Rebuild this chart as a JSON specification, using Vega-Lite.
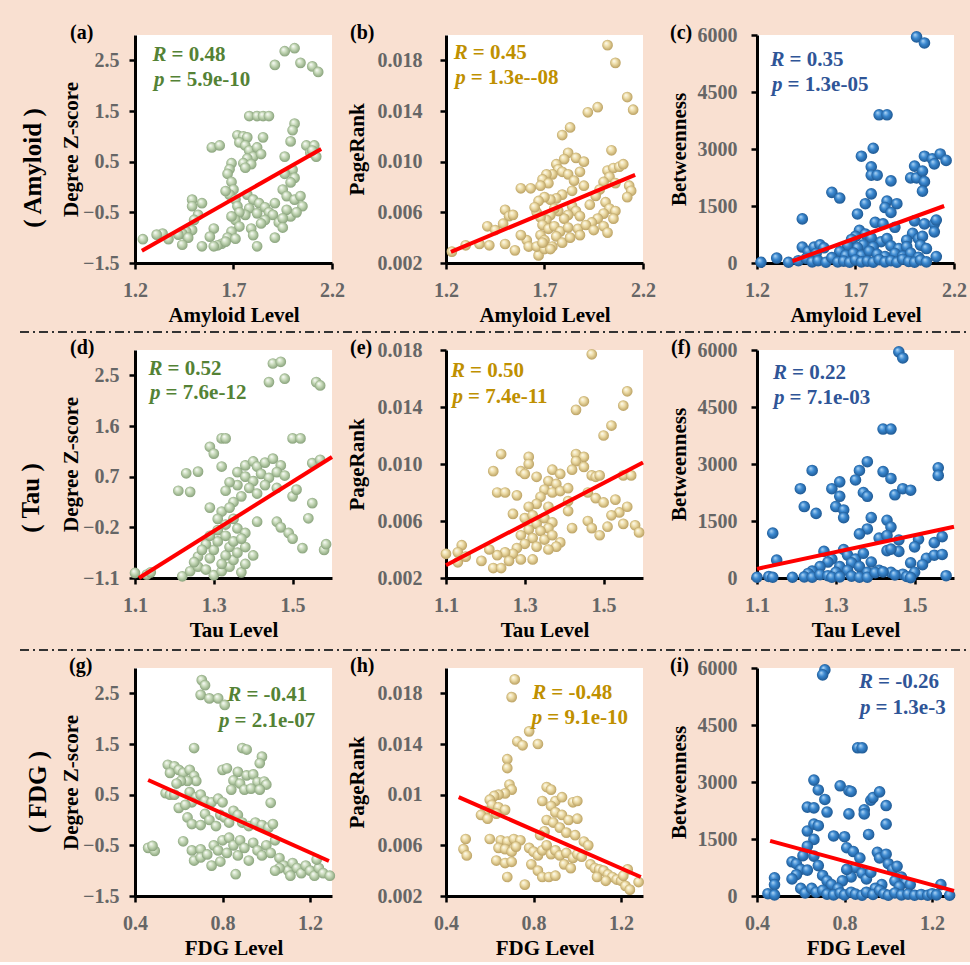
{
"$schema": "https://vega.github.io/schema/vega-lite/v6.json",
"background": "#f9e0d1",
"padding": {"left": 18, "top": 23, "right": 3, "bottom": 4},
"config": {
 "view": {"fill": "white", "stroke": null},
 "font": "Liberation Serif",
 "axis": {"domainColor": "black", "domainWidth": 3, "tickColor": "black", "tickWidth": 2.5, "tickSize": 6, "labelColor": "#666666", "labelFont": "Liberation Serif", "labelFontSize": 20, "labelFontWeight": "bold", "titleFont": "Liberation Serif", "titleFontSize": 21, "titleFontWeight": "bold", "titleColor": "black", "grid": false, "labelOverlap": false, "labelFlush": false},
 "axisX": {"labelPadding": 11, "titlePadding": 4},
 "title": {"font": "Liberation Serif", "fontSize": 20, "fontWeight": "bold", "color": "black", "anchor": "start", "frame": "group", "offset": -8},
 "text": {"font": "Liberation Serif", "fontSize": 21, "fontWeight": "bold", "baseline": "middle"}
},
"datasets": {
 "fit": [
  {"p":"a","x":1.235,"y":-1.26},{"p":"a","x":2.145,"y":0.75},
  {"p":"b","x":1.225,"y":0.00288},{"p":"b","x":2.16,"y":0.00896},
  {"p":"c","x":1.38,"y":50},{"p":"c","x":2.15,"y":1500},
  {"p":"d","x":1.11,"y":-1.1},{"p":"d","x":1.6,"y":1.05},
  {"p":"e","x":1.1,"y":0.0029},{"p":"e","x":1.6,"y":0.0101},
  {"p":"f","x":1.1,"y":240},{"p":"f","x":1.6,"y":1350},
  {"p":"g","x":0.46,"y":0.79},{"p":"g","x":1.286,"y":-0.81},
  {"p":"h","x":0.458,"y":0.0098},{"p":"h","x":1.29,"y":0.0035},
  {"p":"i","x":0.46,"y":1450},{"p":"i","x":1.3,"y":134}
 ],
 "ann": [
  {"p":"a","x":1.36,"y":2.60,"s":"R","t":"= 0.48"},{"p":"a","x":1.35,"y":2.11,"s":"p","t":"= 5.9e-10"},
  {"p":"b","x":1.31,"y":0.0186,"s":"R","t":"= 0.45"},{"p":"b","x":1.30,"y":0.0166,"s":"p","t":"= 1.3e--08"},
  {"p":"c","x":1.34,"y":5330,"s":"R","t":"= 0.35"},{"p":"c","x":1.33,"y":4690,"s":"p","t":"= 1.3e-05"},
  {"p":"d","x":1.17,"y":2.62,"s":"R","t":"= 0.52"},{"p":"d","x":1.165,"y":2.18,"s":"p","t":"= 7.6e-12"},
  {"p":"e","x":1.148,"y":0.01656,"s":"R","t":"= 0.50"},{"p":"e","x":1.143,"y":0.0147,"s":"p","t":"= 7.4e-11"},
  {"p":"f","x":1.176,"y":5400,"s":"R","t":"= 0.22"},{"p":"f","x":1.17,"y":4724,"s":"p","t":"= 7.1e-03"},
  {"p":"g","x":0.886,"y":2.46,"s":"R","t":"= -0.41"},{"p":"g","x":0.832,"y":1.95,"s":"p","t":"= 2.1e-07"},
  {"p":"h","x":0.858,"y":0.018,"s":"R","t":"= -0.48"},{"p":"h","x":0.84,"y":0.01604,"s":"p","t":"= 9.1e-10"},
  {"p":"i","x":0.93,"y":5628,"s":"R","t":"= -0.26"},{"p":"i","x":0.918,"y":4958,"s":"p","t":"= 1.3e-3"}
 ],
 "pa": [
  {"x":1.91,"y":2.41},{"x":1.96,"y":2.68},{"x":2.01,"y":2.74},{"x":2.04,"y":2.45},{"x":2.1,"y":2.38},{"x":2.13,"y":2.27},
  {"x":1.78,"y":1.4},{"x":1.82,"y":1.4},{"x":1.85,"y":1.4},{"x":1.88,"y":1.4},{"x":2.01,"y":1.25},{"x":2.0,"y":1.12},
  {"x":1.59,"y":0.78},{"x":1.63,"y":0.82},{"x":1.72,"y":1.02},{"x":1.75,"y":1.0},{"x":1.77,"y":0.98},{"x":1.85,"y":0.98},
  {"x":1.73,"y":0.88},{"x":1.76,"y":0.82},{"x":1.78,"y":0.72},{"x":1.8,"y":0.6},{"x":1.77,"y":0.56},{"x":1.75,"y":0.47},{"x":1.79,"y":0.45},{"x":1.82,"y":0.78},{"x":1.84,"y":0.65},{"x":1.76,"y":0.38},
  {"x":1.96,"y":0.6},{"x":1.99,"y":0.9},{"x":2.07,"y":0.82},{"x":2.11,"y":0.82},{"x":2.09,"y":0.68},{"x":2.12,"y":0.6},{"x":2.1,"y":0.72},
  {"x":1.69,"y":0.47},{"x":1.68,"y":0.35},{"x":1.67,"y":0.26},{"x":1.69,"y":0.1},{"x":1.7,"y":-0.05},{"x":1.68,"y":-0.15},{"x":1.66,"y":-0.08},{"x":1.71,"y":-0.25},
  {"x":2.0,"y":0.34},{"x":2.01,"y":0.18},{"x":1.99,"y":0.09},{"x":1.96,"y":0.26},{"x":1.95,"y":-0.05},{"x":1.97,"y":-0.18},{"x":2.01,"y":-0.25},{"x":2.04,"y":-0.18},{"x":2.05,"y":-0.38},{"x":1.99,"y":-0.58},{"x":1.97,"y":-0.45},{"x":2.02,"y":-0.5},
  {"x":1.77,"y":-0.15},{"x":1.8,"y":-0.25},{"x":1.83,"y":-0.32},{"x":1.78,"y":-0.42},{"x":1.76,"y":-0.55},{"x":1.82,"y":-0.52},{"x":1.86,"y":-0.4},{"x":1.88,"y":-0.5},{"x":1.9,"y":-0.55},{"x":1.86,"y":-0.65},{"x":1.84,"y":-0.72},{"x":1.91,"y":-0.32},
  {"x":1.72,"y":-0.38},{"x":1.73,"y":-0.5},{"x":1.71,"y":-0.65},{"x":1.69,"y":-0.58},{"x":1.73,"y":-0.78},{"x":1.69,"y":-0.88},{"x":1.67,"y":-1.0},{"x":1.71,"y":-1.02},{"x":1.64,"y":-1.12},{"x":1.62,"y":-1.15},{"x":1.66,"y":-1.08},
  {"x":1.79,"y":-0.82},{"x":1.8,"y":-0.95},{"x":1.82,"y":-1.17},{"x":1.93,"y":-0.7},{"x":1.95,"y":-0.62},{"x":1.91,"y":-1.0},{"x":1.95,"y":-0.8},
  {"x":1.49,"y":-0.25},{"x":1.49,"y":-0.38},{"x":1.54,"y":-0.32},{"x":1.52,"y":-0.55},{"x":1.5,"y":-0.65},{"x":1.49,"y":-0.85},{"x":1.46,"y":-0.88},{"x":1.44,"y":-0.92},{"x":1.47,"y":-1.0},{"x":1.42,"y":-0.94},{"x":1.37,"y":-1.03},{"x":1.34,"y":-0.92},{"x":1.31,"y":-0.94},{"x":1.24,"y":-1.03},{"x":1.44,"y":-1.14},{"x":1.54,"y":-1.17},{"x":1.6,"y":-0.82},{"x":1.58,"y":-0.98},{"x":1.6,"y":-1.17}
 ],
 "pb": [
  {"x":2.02,"y":0.0192},{"x":2.06,"y":0.0178},{"x":2.12,"y":0.0151},{"x":2.15,"y":0.0141},{"x":1.92,"y":0.0139},{"x":1.97,"y":0.0143},{"x":1.79,"y":0.0121},{"x":1.83,"y":0.0127},{"x":2.04,"y":0.0109},
  {"x":1.82,"y":0.0107},{"x":1.86,"y":0.0103},{"x":1.90,"y":0.0100},{"x":1.80,"y":0.0102},{"x":1.76,"y":0.0098},{"x":1.77,"y":0.0094},{"x":1.74,"y":0.0090},{"x":1.71,"y":0.0090},{"x":1.79,"y":0.0092},{"x":1.82,"y":0.0090},{"x":1.88,"y":0.0092},{"x":1.69,"y":0.0086},{"x":1.72,"y":0.0083},{"x":1.68,"y":0.0081},{"x":1.85,"y":0.0085},{"x":1.9,"y":0.0081},{"x":1.84,"y":0.0077},{"x":1.79,"y":0.0074},{"x":1.76,"y":0.0071},{"x":1.73,"y":0.0070},{"x":1.70,"y":0.0072},{"x":1.67,"y":0.0069},
  {"x":1.58,"y":0.0079},{"x":1.63,"y":0.0079},
  {"x":2.02,"y":0.0093},{"x":2.05,"y":0.0095},{"x":2.08,"y":0.0096},{"x":2.1,"y":0.0098},{"x":2.03,"y":0.0088},{"x":2.0,"y":0.0084},{"x":2.06,"y":0.0083},{"x":2.13,"y":0.0081},{"x":2.14,"y":0.0077},{"x":2.12,"y":0.0072},{"x":1.98,"y":0.0078},{"x":1.96,"y":0.0073},{"x":2.01,"y":0.0068},{"x":2.03,"y":0.0063},{"x":2.06,"y":0.0061},{"x":2.0,"y":0.0059},{"x":2.05,"y":0.0055},{"x":1.97,"y":0.0055},{"x":1.94,"y":0.0052},{"x":1.93,"y":0.0066},
  {"x":1.84,"y":0.0065},{"x":1.86,"y":0.0061},{"x":1.88,"y":0.0057},{"x":1.82,"y":0.0058},{"x":1.80,"y":0.0055},{"x":1.77,"y":0.0061},{"x":1.75,"y":0.0063},{"x":1.73,"y":0.0058},{"x":1.71,"y":0.0054},{"x":1.68,"y":0.0056},{"x":1.66,"y":0.0060},{"x":1.65,"y":0.0064},{"x":1.69,"y":0.0050},{"x":1.72,"y":0.0047},{"x":1.75,"y":0.0049},{"x":1.78,"y":0.0045},{"x":1.82,"y":0.0048},{"x":1.87,"y":0.0047},{"x":1.91,"y":0.0050},{"x":1.95,"y":0.0046},{"x":2.0,"y":0.0049},{"x":2.02,"y":0.0044},
  {"x":1.68,"y":0.0042},{"x":1.7,"y":0.0038},{"x":1.76,"y":0.0041},{"x":1.79,"y":0.0036},{"x":1.83,"y":0.0040},{"x":1.88,"y":0.0042},{"x":1.74,"y":0.0033},
  {"x":1.23,"y":0.0029},{"x":1.30,"y":0.0034},{"x":1.37,"y":0.0035},{"x":1.42,"y":0.0034},{"x":1.50,"y":0.0035},{"x":1.55,"y":0.0030},
  {"x":1.41,"y":0.0049},{"x":1.45,"y":0.0046},{"x":1.50,"y":0.0062},{"x":1.52,"y":0.0057},{"x":1.54,"y":0.0058},{"x":1.49,"y":0.0051},
  {"x":1.61,"y":0.0038},{"x":1.62,"y":0.0033},{"x":1.67,"y":0.0026},{"x":1.66,"y":0.0033},{"x":1.70,"y":0.0031},{"x":1.73,"y":0.0031},{"x":1.69,"y":0.0036},{"x":1.58,"y":0.0042}
 ],
 "pc": [
  {"x":2.01,"y":5950},{"x":2.05,"y":5790},{"x":1.82,"y":3900},{"x":1.86,"y":3900},{"x":1.79,"y":3020},{"x":1.73,"y":2810},{"x":1.78,"y":2530},{"x":1.78,"y":2310},{"x":1.81,"y":2310},{"x":1.88,"y":2160},
  {"x":2.0,"y":2550},{"x":1.98,"y":2240},{"x":2.01,"y":2240},{"x":2.04,"y":2420},{"x":2.05,"y":2140},{"x":2.04,"y":1890},{"x":2.05,"y":2810},{"x":2.09,"y":2740},{"x":2.1,"y":2610},{"x":2.13,"y":2870},{"x":2.16,"y":2700},
  {"x":1.58,"y":1860},{"x":1.62,"y":1710},{"x":1.78,"y":1820},{"x":1.75,"y":1560},{"x":1.86,"y":1630},{"x":1.91,"y":1560},{"x":1.85,"y":1460},{"x":1.88,"y":1330},{"x":1.71,"y":1290},{"x":1.43,"y":1160},
  {"x":1.80,"y":1070},{"x":1.84,"y":1030},{"x":1.90,"y":940},{"x":2.0,"y":1110},{"x":2.05,"y":1030},{"x":2.1,"y":1030},{"x":2.11,"y":1130},{"x":2.1,"y":820},{"x":2.11,"y":170},
  {"x":1.99,"y":780},{"x":2.02,"y":640},{"x":1.96,"y":600},{"x":2.04,"y":700},{"x":1.72,"y":860},{"x":1.75,"y":760},{"x":1.70,"y":700},{"x":1.68,"y":620},{"x":1.78,"y":660},{"x":1.83,"y":560},{"x":1.86,"y":640},{"x":1.74,"y":480},{"x":1.71,"y":400},{"x":1.66,"y":460},{"x":1.79,"y":420},{"x":1.88,"y":450},{"x":1.92,"y":380},{"x":1.96,"y":430},{"x":2.03,"y":470},{"x":2.06,"y":380},
  {"x":1.43,"y":420},{"x":1.46,"y":300},{"x":1.49,"y":420},{"x":1.52,"y":480},{"x":1.54,"y":400},{"x":1.5,"y":250},{"x":1.62,"y":300},{"x":1.65,"y":200},{"x":1.69,"y":260},{"x":1.73,"y":200},{"x":1.77,"y":310},{"x":1.81,"y":230},{"x":1.85,"y":170},{"x":1.9,"y":250},{"x":1.94,"y":180},{"x":1.98,"y":260},{"x":2.02,"y":150},
  {"x":1.22,"y":20},{"x":1.3,"y":130},{"x":1.36,"y":20},{"x":1.41,"y":60},{"x":1.45,"y":120},{"x":1.48,"y":30},{"x":1.51,"y":60},{"x":1.55,"y":20},{"x":1.58,"y":140},{"x":1.61,"y":30},{"x":1.64,"y":50},{"x":1.67,"y":20},{"x":1.7,"y":80},{"x":1.73,"y":30},{"x":1.76,"y":50},{"x":1.79,"y":20},{"x":1.82,"y":90},{"x":1.85,"y":30},{"x":1.88,"y":60},{"x":1.91,"y":20},{"x":1.94,"y":100},{"x":1.97,"y":40},{"x":2.0,"y":20},{"x":2.03,"y":80},{"x":2.06,"y":30}
 ],
 "pd": [
  {"x":1.45,"y":2.71},{"x":1.47,"y":2.74},{"x":1.44,"y":2.38},{"x":1.48,"y":2.44},{"x":1.56,"y":2.38},{"x":1.57,"y":2.32},
  {"x":1.50,"y":1.38},{"x":1.52,"y":1.38},{"x":1.32,"y":1.38},{"x":1.33,"y":1.38},{"x":1.29,"y":1.23},{"x":1.3,"y":1.11},
  {"x":1.23,"y":0.76},{"x":1.26,"y":0.79},{"x":1.32,"y":0.88},{"x":1.38,"y":0.9},{"x":1.4,"y":0.97},{"x":1.41,"y":0.88},{"x":1.43,"y":0.95},{"x":1.45,"y":1.02},{"x":1.47,"y":0.9},{"x":1.55,"y":0.94},{"x":1.57,"y":1.0},
  {"x":1.36,"y":0.78},{"x":1.38,"y":0.7},{"x":1.40,"y":0.62},{"x":1.42,"y":0.75},{"x":1.44,"y":0.68},{"x":1.46,"y":0.78},{"x":1.48,"y":0.72},{"x":1.43,"y":0.55},{"x":1.46,"y":0.5},{"x":1.39,"y":0.5},{"x":1.36,"y":0.55},{"x":1.34,"y":0.6},{"x":1.41,"y":0.4},{"x":1.37,"y":0.35},{"x":1.33,"y":0.45},{"x":1.35,"y":0.25},
  {"x":1.21,"y":0.45},{"x":1.24,"y":0.43},{"x":1.29,"y":0.15},{"x":1.32,"y":0.08},{"x":1.31,"y":-0.05},{"x":1.33,"y":-0.15},{"x":1.35,"y":-0.05},{"x":1.34,"y":0.15},{"x":1.36,"y":-0.22},{"x":1.31,"y":-0.25},{"x":1.38,"y":-0.3},{"x":1.41,"y":-0.1},
  {"x":1.46,"y":-0.1},{"x":1.47,"y":-0.2},{"x":1.49,"y":-0.3},{"x":1.5,"y":-0.4},{"x":1.525,"y":-0.57},{"x":1.58,"y":-0.6},{"x":1.585,"y":-0.5},{"x":1.5,"y":0.35},{"x":1.51,"y":0.47},{"x":1.55,"y":0.23},{"x":1.54,"y":-0.04},
  {"x":1.1,"y":-1.01},{"x":1.13,"y":-1.04},{"x":1.14,"y":-1.0},{"x":1.22,"y":-1.07},{"x":1.24,"y":-0.98},{"x":1.26,"y":-0.9},{"x":1.28,"y":-0.95},{"x":1.3,"y":-1.05},{"x":1.32,"y":-0.98},{"x":1.34,"y":-0.9},{"x":1.37,"y":-1.0},{"x":1.38,"y":-0.85},{"x":1.35,"y":-0.78},{"x":1.33,"y":-0.7},{"x":1.29,"y":-0.75},{"x":1.26,"y":-0.72},{"x":1.25,"y":-0.82},{"x":1.3,"y":-0.6},{"x":1.28,"y":-0.5},{"x":1.31,"y":-0.45},{"x":1.34,"y":-0.55},{"x":1.36,"y":-0.65},{"x":1.38,"y":-0.55},{"x":1.4,"y":-0.7},{"x":1.33,"y":-0.35},{"x":1.29,"y":-0.35},{"x":1.27,"y":-0.6},{"x":1.32,"y":-0.85},{"x":1.35,"y":-0.45},{"x":1.37,"y":-0.4}
 ],
 "pe": [
  {"x":1.47,"y":0.0177},{"x":1.56,"y":0.0151},{"x":1.55,"y":0.0141},{"x":1.43,"y":0.0138},{"x":1.45,"y":0.0144},{"x":1.52,"y":0.0127},{"x":1.50,"y":0.0120},
  {"x":1.24,"y":0.0107},{"x":1.22,"y":0.0095},{"x":1.31,"y":0.0105},{"x":1.31,"y":0.0100},{"x":1.29,"y":0.0095},{"x":1.30,"y":0.0093},{"x":1.33,"y":0.0091},{"x":1.37,"y":0.0096},{"x":1.39,"y":0.0093},
  {"x":1.43,"y":0.0107},{"x":1.45,"y":0.0105},{"x":1.43,"y":0.0102},{"x":1.42,"y":0.0096},{"x":1.45,"y":0.0098},{"x":1.47,"y":0.0092},{"x":1.48,"y":0.0091},{"x":1.49,"y":0.0092},{"x":1.55,"y":0.0092},{"x":1.57,"y":0.0092},
  {"x":1.23,"y":0.0080},{"x":1.25,"y":0.0080},{"x":1.28,"y":0.0078},{"x":1.36,"y":0.0088},{"x":1.38,"y":0.0086},{"x":1.35,"y":0.0082},{"x":1.37,"y":0.0080},{"x":1.39,"y":0.0081},{"x":1.41,"y":0.0083},{"x":1.34,"y":0.0077},{"x":1.33,"y":0.0072},{"x":1.31,"y":0.0070},{"x":1.36,"y":0.0070},{"x":1.41,"y":0.0074},{"x":1.41,"y":0.0067},{"x":1.46,"y":0.0080},{"x":1.48,"y":0.0076},
  {"x":1.27,"y":0.0065},{"x":1.3,"y":0.0062},{"x":1.32,"y":0.0064},{"x":1.33,"y":0.0058},{"x":1.35,"y":0.0062},{"x":1.37,"y":0.0059},{"x":1.36,"y":0.0055},{"x":1.34,"y":0.0053},{"x":1.31,"y":0.0054},{"x":1.29,"y":0.0050},{"x":1.32,"y":0.0048},{"x":1.35,"y":0.0047},{"x":1.37,"y":0.0050},{"x":1.39,"y":0.0045},{"x":1.38,"y":0.0042},{"x":1.36,"y":0.0040},{"x":1.33,"y":0.0042},{"x":1.30,"y":0.0044},{"x":1.28,"y":0.0041},{"x":1.27,"y":0.0037},{"x":1.25,"y":0.0038},{"x":1.29,"y":0.0033},{"x":1.32,"y":0.0033},{"x":1.26,"y":0.0032},{"x":1.42,"y":0.0055},
  {"x":1.10,"y":0.0037},{"x":1.14,"y":0.0043},{"x":1.13,"y":0.0038},{"x":1.13,"y":0.0031},{"x":1.15,"y":0.0035},{"x":1.19,"y":0.0032},{"x":1.22,"y":0.0027},{"x":1.24,"y":0.0027},{"x":1.23,"y":0.0036},{"x":1.21,"y":0.0040},
  {"x":1.46,"y":0.0060},{"x":1.47,"y":0.0055},{"x":1.49,"y":0.0050},{"x":1.51,"y":0.0056},{"x":1.53,"y":0.0075},{"x":1.54,"y":0.0066},{"x":1.55,"y":0.0058},{"x":1.52,"y":0.0064},{"x":1.56,"y":0.0070},{"x":1.58,"y":0.0057},{"x":1.59,"y":0.0052},{"x":1.50,"y":0.0073}
 ],
 "pf": [
  {"x":1.46,"y":5950},{"x":1.47,"y":5790},{"x":1.42,"y":3920},{"x":1.44,"y":3920},{"x":1.38,"y":3060},{"x":1.36,"y":2830},{"x":1.35,"y":2580},{"x":1.42,"y":2800},{"x":1.44,"y":2620},{"x":1.56,"y":2900},{"x":1.56,"y":2700},{"x":1.24,"y":2830},
  {"x":1.21,"y":2350},{"x":1.29,"y":2350},{"x":1.31,"y":2530},{"x":1.31,"y":2150},{"x":1.37,"y":2250},{"x":1.38,"y":2150},{"x":1.45,"y":2190},{"x":1.47,"y":2350},{"x":1.49,"y":2310},
  {"x":1.22,"y":1880},{"x":1.25,"y":1700},{"x":1.30,"y":1880},{"x":1.32,"y":1790},{"x":1.32,"y":1590},{"x":1.39,"y":1590},{"x":1.43,"y":1520},{"x":1.44,"y":1340},{"x":1.38,"y":1290},{"x":1.36,"y":1160},{"x":1.14,"y":1180},{"x":1.15,"y":470},
  {"x":1.27,"y":700},{"x":1.41,"y":1050},{"x":1.43,"y":1120},{"x":1.46,"y":1000},{"x":1.51,"y":1020},{"x":1.55,"y":930},{"x":1.57,"y":1090},{"x":1.5,"y":820},{"x":1.46,"y":700},{"x":1.43,"y":720},{"x":1.44,"y":760},{"x":1.53,"y":520},{"x":1.55,"y":600},{"x":1.57,"y":620},{"x":1.52,"y":350},{"x":1.49,"y":400},{"x":1.39,"y":420},
  {"x":1.29,"y":500},{"x":1.32,"y":750},{"x":1.33,"y":600},{"x":1.35,"y":500},{"x":1.37,"y":650},{"x":1.34,"y":400},{"x":1.36,"y":300},{"x":1.31,"y":300},{"x":1.28,"y":420},{"x":1.26,"y":300},{"x":1.24,"y":180},{"x":1.3,"y":150},{"x":1.33,"y":200},{"x":1.38,"y":150},{"x":1.41,"y":200},{"x":1.44,"y":150},{"x":1.47,"y":100},{"x":1.5,"y":150},{"x":1.23,"y":120},
  {"x":1.1,"y":20},{"x":1.13,"y":40},{"x":1.14,"y":20},{"x":1.19,"y":20},{"x":1.22,"y":30},{"x":1.24,"y":20},{"x":1.26,"y":90},{"x":1.28,"y":60},{"x":1.29,"y":20},{"x":1.31,"y":30},{"x":1.34,"y":50},{"x":1.36,"y":20},{"x":1.38,"y":20},{"x":1.4,"y":140},{"x":1.42,"y":160},{"x":1.45,"y":80},{"x":1.48,"y":40},{"x":1.49,"y":10},{"x":1.58,"y":60}
 ],
 "pg": [
  {"x":0.705,"y":2.76},{"x":0.72,"y":2.66},{"x":0.70,"y":2.47},{"x":0.74,"y":2.40},{"x":0.78,"y":2.40},{"x":0.81,"y":2.27},
  {"x":0.67,"y":1.42},{"x":0.89,"y":1.42},{"x":0.91,"y":1.39},{"x":0.98,"y":1.25},{"x":0.97,"y":1.12},
  {"x":0.80,"y":0.99},{"x":0.82,"y":1.02},{"x":0.55,"y":1.09},{"x":0.58,"y":1.06},{"x":0.56,"y":0.93},{"x":0.60,"y":0.99},{"x":0.62,"y":0.93},{"x":0.65,"y":0.99},{"x":0.67,"y":0.87},{"x":0.68,"y":0.77},{"x":0.64,"y":0.77},{"x":0.61,"y":0.77},{"x":0.59,"y":0.72},
  {"x":0.87,"y":0.95},{"x":0.91,"y":0.88},{"x":0.94,"y":0.9},{"x":0.96,"y":0.75},{"x":0.99,"y":0.76},{"x":1.0,"y":0.7},{"x":0.85,"y":0.78},{"x":0.88,"y":0.72},{"x":0.84,"y":0.6},{"x":0.9,"y":0.6},{"x":0.93,"y":0.62},{"x":0.97,"y":0.6},
  {"x":0.54,"y":0.53},{"x":0.56,"y":0.5},{"x":0.58,"y":0.5},{"x":0.60,"y":0.24},{"x":0.65,"y":0.55},{"x":0.68,"y":0.45},{"x":0.70,"y":0.5},{"x":0.66,"y":0.35},{"x":0.63,"y":0.3},{"x":0.72,"y":0.38},{"x":0.75,"y":0.35},{"x":0.78,"y":0.42},{"x":0.8,"y":0.35},{"x":1.02,"y":0.34},
  {"x":0.64,"y":0.05},{"x":0.66,"y":-0.08},{"x":0.7,"y":-0.1},{"x":0.72,"y":0.12},{"x":0.74,"y":0.0},{"x":0.77,"y":-0.12},{"x":0.79,"y":0.1},{"x":0.81,"y":0.05},{"x":0.83,"y":-0.05},{"x":0.85,"y":0.18},{"x":0.87,"y":0.1},{"x":0.89,"y":-0.05},{"x":0.92,"y":-0.12},{"x":0.95,"y":-0.05},{"x":0.98,"y":-0.1},{"x":1.01,"y":-0.15},{"x":1.03,"y":-0.08},
  {"x":0.62,"y":-0.42},{"x":0.46,"y":-0.55},{"x":0.49,"y":-0.61},{"x":0.48,"y":-0.51},
  {"x":0.66,"y":-0.6},{"x":0.7,"y":-0.58},{"x":0.67,"y":-0.8},{"x":0.7,"y":-0.74},{"x":0.75,"y":-0.9},{"x":0.73,"y":-0.68},{"x":0.76,"y":-0.5},{"x":0.78,"y":-0.6},{"x":0.8,"y":-0.4},{"x":0.83,"y":-0.35},{"x":0.82,"y":-0.65},{"x":0.85,"y":-0.5},{"x":0.87,"y":-0.7},{"x":0.88,"y":-0.4},{"x":0.9,"y":-0.55},{"x":0.92,"y":-0.8},{"x":0.94,"y":-0.45},{"x":0.96,"y":-0.6},{"x":0.98,"y":-0.7},{"x":1.0,"y":-0.5},{"x":1.02,"y":-0.65},{"x":1.04,"y":-0.4},{"x":1.06,"y":-0.75},
  {"x":0.86,"y":-1.07},{"x":0.79,"y":-0.82},
  {"x":1.08,"y":-0.9},{"x":1.1,"y":-1.0},{"x":1.12,"y":-0.85},{"x":1.14,"y":-0.95},{"x":1.16,"y":-1.05},{"x":1.18,"y":-0.9},{"x":1.2,"y":-1.0},{"x":1.22,"y":-1.1},{"x":1.24,"y":-0.95},{"x":1.26,"y":-1.05},{"x":1.29,"y":-1.1},{"x":1.11,"y":-1.1},{"x":1.06,"y":-0.95},{"x":1.04,"y":-1.0},{"x":1.23,"y":-0.78}
 ],
 "ph": [
  {"x":0.714,"y":0.0191},{"x":0.70,"y":0.0177},{"x":0.726,"y":0.0142},{"x":0.75,"y":0.0139},{"x":0.78,"y":0.0150},{"x":0.82,"y":0.0140},{"x":0.68,"y":0.0128},{"x":0.68,"y":0.0121},
  {"x":0.69,"y":0.0108},{"x":0.70,"y":0.0104},{"x":0.67,"y":0.0101},{"x":0.64,"y":0.0100},{"x":0.62,"y":0.0099},{"x":0.60,"y":0.0096},{"x":0.61,"y":0.0092},{"x":0.64,"y":0.0090},{"x":0.67,"y":0.0088},{"x":0.63,"y":0.0085},{"x":0.58,"y":0.0087},{"x":0.56,"y":0.0084},{"x":0.59,"y":0.0081},
  {"x":0.86,"y":0.0106},{"x":0.88,"y":0.0104},{"x":0.84,"y":0.0095},{"x":0.90,"y":0.0095},{"x":0.93,"y":0.0098},{"x":0.98,"y":0.0094},{"x":1.0,"y":0.0095},{"x":0.88,"y":0.0091},{"x":0.9,"y":0.0086},{"x":0.93,"y":0.0084},{"x":0.96,"y":0.0080},{"x":1.0,"y":0.0081},{"x":0.86,"y":0.0080},{"x":0.89,"y":0.0078},{"x":0.92,"y":0.0074},{"x":0.95,"y":0.0070},{"x":0.99,"y":0.0068},{"x":1.03,"y":0.0063},{"x":1.05,"y":0.0060},{"x":0.85,"y":0.0071},{"x":0.83,"y":0.0068},
  {"x":0.49,"y":0.0065},{"x":0.48,"y":0.0057},{"x":0.495,"y":0.0052},{"x":0.60,"y":0.0065},{"x":0.65,"y":0.0064},{"x":0.68,"y":0.0063},{"x":0.71,"y":0.0065},{"x":0.74,"y":0.0064},{"x":0.64,"y":0.0058},{"x":0.67,"y":0.0057},{"x":0.70,"y":0.0055},{"x":0.72,"y":0.0059},{"x":0.63,"y":0.0048},{"x":0.67,"y":0.0046},{"x":0.70,"y":0.0047},{"x":0.68,"y":0.0035},{"x":0.76,"y":0.0029},
  {"x":0.78,"y":0.0058},{"x":0.8,"y":0.0055},{"x":0.82,"y":0.0052},{"x":0.84,"y":0.0056},{"x":0.86,"y":0.0060},{"x":0.88,"y":0.0053},{"x":0.9,"y":0.0056},{"x":0.92,"y":0.0052},{"x":0.95,"y":0.0054},{"x":0.98,"y":0.0050},{"x":1.0,"y":0.0053},{"x":1.02,"y":0.0051},{"x":0.79,"y":0.0045},{"x":0.82,"y":0.0040},{"x":0.84,"y":0.0035},{"x":0.87,"y":0.0035},{"x":0.9,"y":0.0036},{"x":0.94,"y":0.0045},{"x":0.97,"y":0.0042},
  {"x":1.06,"y":0.0045},{"x":1.08,"y":0.0042},{"x":1.1,"y":0.0041},{"x":1.12,"y":0.0040},{"x":1.14,"y":0.0037},{"x":1.16,"y":0.0035},{"x":1.18,"y":0.0033},{"x":1.2,"y":0.0032},{"x":1.22,"y":0.0028},{"x":1.24,"y":0.0025},{"x":1.28,"y":0.0031},{"x":1.23,"y":0.0041},{"x":1.21,"y":0.0036},{"x":1.13,"y":0.0032},{"x":1.09,"y":0.0035}
 ],
 "pi": [
  {"x":0.71,"y":5950},{"x":0.70,"y":5820},{"x":0.86,"y":3900},{"x":0.88,"y":3900},{"x":0.66,"y":3050},{"x":0.68,"y":2790},{"x":0.78,"y":2900},{"x":0.82,"y":2770},{"x":0.83,"y":2750},{"x":0.71,"y":2540},{"x":0.63,"y":2340},{"x":0.66,"y":2320},{"x":0.72,"y":2210},{"x":0.89,"y":2270},{"x":0.89,"y":2160},{"x":0.92,"y":2520},{"x":0.93,"y":2590},{"x":0.96,"y":2740},{"x":0.99,"y":2380},{"x":0.82,"y":2160},{"x":0.99,"y":1890},{"x":0.63,"y":1710},{"x":0.66,"y":1890},{"x":0.68,"y":1850},{"x":0.66,"y":1490},{"x":0.63,"y":1310},{"x":0.75,"y":1580},{"x":0.80,"y":1560},{"x":0.81,"y":1270},{"x":0.91,"y":1620},
  {"x":0.56,"y":900},{"x":0.58,"y":850},{"x":0.60,"y":700},{"x":0.58,"y":560},{"x":0.56,"y":450},{"x":0.63,"y":680},{"x":0.61,"y":1060},{"x":0.66,"y":1050},{"x":0.68,"y":800},{"x":0.7,"y":540},{"x":0.72,"y":400},{"x":0.74,"y":300},{"x":0.48,"y":480},{"x":0.48,"y":300},{"x":0.45,"y":60},{"x":0.48,"y":30},
  {"x":0.84,"y":1170},{"x":0.87,"y":1000},{"x":0.85,"y":750},{"x":0.88,"y":600},{"x":0.9,"y":450},{"x":0.83,"y":500},{"x":0.81,"y":700},{"x":0.79,"y":400},{"x":0.77,"y":200},{"x":0.92,"y":620},{"x":0.95,"y":1150},{"x":0.96,"y":1000},{"x":0.99,"y":1100},{"x":1.0,"y":850},{"x":1.02,"y":700},{"x":1.04,"y":780},{"x":1.06,"y":500},{"x":1.03,"y":400},{"x":1.08,"y":350},{"x":1.1,"y":300},{"x":1.05,"y":250},{"x":0.97,"y":300},{"x":0.94,"y":200},
  {"x":0.6,"y":200},{"x":0.62,"y":80},{"x":0.65,"y":200},{"x":0.67,"y":100},{"x":0.7,"y":150},{"x":0.72,"y":50},{"x":0.75,"y":30},{"x":0.78,"y":80},{"x":0.8,"y":30},{"x":0.83,"y":100},{"x":0.85,"y":50},{"x":0.88,"y":20},{"x":0.9,"y":100},{"x":0.93,"y":40},{"x":0.96,"y":150},{"x":0.98,"y":60},{"x":1.0,"y":20},{"x":1.03,"y":80},{"x":1.06,"y":30},{"x":1.09,"y":50},{"x":1.12,"y":20},{"x":1.15,"y":40},{"x":1.18,"y":20},{"x":1.2,"y":60},{"x":1.22,"y":30},{"x":1.24,"y":300},{"x":1.28,"y":20}
 ]
},
"spacing": 5,
"vconcat": [
 {"hconcat": [
  {"width": 1, "height": 228, "view": {"fill": null, "stroke": null}, "data": {"values": [{"t": "( Amyloid )"}]}, "mark": {"type": "text", "angle": 270, "fontSize": 25, "fontWeight": "bold", "color": "black", "dy": 12, "dx": -19}, "encoding": {"text": {"field": "t"}}},
  {"width": 197, "height": 228, "title": {"text": "(a)", "dx": -65},
   "layer": [
    {"data": {"name": "pa"}, "mark": {"type": "circle", "size": 115, "opacity": 1, "strokeWidth": 0, "fill": {"gradient": "radial", "x1": 0.35, "y1": 0.3, "r1": 0, "x2": 0.5, "y2": 0.5, "r2": 0.55, "stops": [{"offset": 0, "color": "#ffffff"}, {"offset": 0.45, "color": "#c6d9b8"}, {"offset": 1, "color": "#7f9a72"}]}},
     "encoding": {"x": {"field": "x", "type": "quantitative", "scale": {"domain": [1.2, 2.2], "nice": false, "zero": false}, "axis": {"values": [1.2, 1.7, 2.2], "format": ".1f", "title": "Amyloid Level"}},
      "y": {"field": "y", "type": "quantitative", "scale": {"domain": [-1.5, 3.0], "nice": false, "zero": false}, "axis": {"values": [-1.5, -0.5, 0.5, 1.5, 2.5], "format": ".1f", "title": "Degree Z-score", "labelPadding": 10, "titlePadding": 1}}}},
    {"data": {"name": "fit"}, "transform": [{"filter": "datum.p == 'a'"}], "mark": {"type": "line", "color": "#ff0000", "strokeWidth": 4}, "encoding": {"x": {"field": "x", "type": "quantitative"}, "y": {"field": "y", "type": "quantitative"}}},
    {"data": {"name": "ann"}, "transform": [{"filter": "datum.p == 'a'"}], "mark": {"type": "text", "align": "right", "fontStyle": "italic", "color": "#548235"}, "encoding": {"x": {"field": "x", "type": "quantitative"}, "y": {"field": "y", "type": "quantitative"}, "text": {"field": "s"}}},
    {"data": {"name": "ann"}, "transform": [{"filter": "datum.p == 'a'"}], "mark": {"type": "text", "align": "left", "dx": 5, "color": "#548235"}, "encoding": {"x": {"field": "x", "type": "quantitative"}, "y": {"field": "y", "type": "quantitative"}, "text": {"field": "t"}}}
   ]},
  {"width": 197, "height": 228, "title": {"text": "(b)", "dx": -96},
   "layer": [
    {"data": {"name": "pb"}, "mark": {"type": "circle", "size": 115, "opacity": 1, "strokeWidth": 0, "fill": {"gradient": "radial", "x1": 0.35, "y1": 0.3, "r1": 0, "x2": 0.5, "y2": 0.5, "r2": 0.55, "stops": [{"offset": 0, "color": "#fffef5"}, {"offset": 0.45, "color": "#eddca6"}, {"offset": 1, "color": "#b39858"}]}},
     "encoding": {"x": {"field": "x", "type": "quantitative", "scale": {"domain": [1.2, 2.2], "nice": false, "zero": false}, "axis": {"values": [1.2, 1.7, 2.2], "format": ".1f", "title": "Amyloid Level"}},
      "y": {"field": "y", "type": "quantitative", "scale": {"domain": [0.002, 0.020], "nice": false, "zero": false}, "axis": {"values": [0.002, 0.006, 0.010, 0.014, 0.018], "format": ".3f", "title": "PageRank", "labelPadding": 18, "titlePadding": 10}}}},
    {"data": {"name": "fit"}, "transform": [{"filter": "datum.p == 'b'"}], "mark": {"type": "line", "color": "#ff0000", "strokeWidth": 4}, "encoding": {"x": {"field": "x", "type": "quantitative"}, "y": {"field": "y", "type": "quantitative"}}},
    {"data": {"name": "ann"}, "transform": [{"filter": "datum.p == 'b'"}], "mark": {"type": "text", "align": "right", "fontStyle": "italic", "color": "#bf9000"}, "encoding": {"x": {"field": "x", "type": "quantitative"}, "y": {"field": "y", "type": "quantitative"}, "text": {"field": "s"}}},
    {"data": {"name": "ann"}, "transform": [{"filter": "datum.p == 'b'"}], "mark": {"type": "text", "align": "left", "dx": 5, "color": "#bf9000"}, "encoding": {"x": {"field": "x", "type": "quantitative"}, "y": {"field": "y", "type": "quantitative"}, "text": {"field": "t"}}}
   ]},
  {"width": 197, "height": 228, "title": {"text": "(c)", "dx": -87, "offset": -18},
   "layer": [
    {"data": {"name": "pc"}, "mark": {"type": "circle", "size": 135, "opacity": 1, "strokeWidth": 0, "fill": {"gradient": "radial", "x1": 0.35, "y1": 0.3, "r1": 0, "x2": 0.5, "y2": 0.5, "r2": 0.55, "stops": [{"offset": 0, "color": "#b5daf8"}, {"offset": 0.45, "color": "#3a88d0"}, {"offset": 1, "color": "#1a5189"}]}},
     "encoding": {"x": {"field": "x", "type": "quantitative", "scale": {"domain": [1.2, 2.2], "nice": false, "zero": false}, "axis": {"values": [1.2, 1.7, 2.2], "format": ".1f", "title": "Amyloid Level"}},
      "y": {"field": "y", "type": "quantitative", "scale": {"domain": [0, 6000], "nice": false}, "axis": {"values": [0, 1500, 3000, 4500, 6000], "format": "d", "title": "Betweenness", "labelPadding": 14, "titlePadding": 8}}}},
    {"data": {"name": "fit"}, "transform": [{"filter": "datum.p == 'c'"}], "mark": {"type": "line", "color": "#ff0000", "strokeWidth": 4}, "encoding": {"x": {"field": "x", "type": "quantitative"}, "y": {"field": "y", "type": "quantitative"}}},
    {"data": {"name": "ann"}, "transform": [{"filter": "datum.p == 'c'"}], "mark": {"type": "text", "align": "right", "fontStyle": "italic", "color": "#2f5597"}, "encoding": {"x": {"field": "x", "type": "quantitative"}, "y": {"field": "y", "type": "quantitative"}, "text": {"field": "s"}}},
    {"data": {"name": "ann"}, "transform": [{"filter": "datum.p == 'c'"}], "mark": {"type": "text", "align": "left", "dx": 5, "color": "#2f5597"}, "encoding": {"x": {"field": "x", "type": "quantitative"}, "y": {"field": "y", "type": "quantitative"}, "text": {"field": "t"}}}
   ]}
 ], "spacing": 114, "bounds": "flush"},
 {"width": 947, "height": 2, "view": {"fill": null, "stroke": null}, "data": {"values": [{"a": 0, "b": 1, "c": 0}]}, "mark": {"type": "rule", "color": "#333333", "strokeWidth": 1.8, "strokeDash": [9, 4, 2, 4]}, "encoding": {"x": {"field": "a", "type": "quantitative", "scale": {"domain": [0, 1]}, "axis": null}, "x2": {"field": "b"}, "y": {"field": "c", "type": "quantitative", "scale": {"domain": [0, 1]}, "axis": null}}},
 {"hconcat": [
  {"width": 1, "height": 228, "view": {"fill": null, "stroke": null}, "data": {"values": [{"t": "( Tau )"}]}, "mark": {"type": "text", "angle": 270, "fontSize": 25, "fontWeight": "bold", "color": "black", "dy": 10, "dx": -34}, "encoding": {"text": {"field": "t"}}},
  {"width": 197, "height": 228, "title": {"text": "(d)", "dx": -65},
   "layer": [
    {"data": {"name": "pd"}, "mark": {"type": "circle", "size": 115, "opacity": 1, "strokeWidth": 0, "fill": {"gradient": "radial", "x1": 0.35, "y1": 0.3, "r1": 0, "x2": 0.5, "y2": 0.5, "r2": 0.55, "stops": [{"offset": 0, "color": "#ffffff"}, {"offset": 0.45, "color": "#c6d9b8"}, {"offset": 1, "color": "#7f9a72"}]}},
     "encoding": {"x": {"field": "x", "type": "quantitative", "scale": {"domain": [1.1, 1.6], "nice": false, "zero": false}, "axis": {"values": [1.1, 1.3, 1.5], "format": ".1f", "title": "Tau Level"}},
      "y": {"field": "y", "type": "quantitative", "scale": {"domain": [-1.1, 2.95], "nice": false, "zero": false}, "axis": {"values": [-1.1, -0.2, 0.7, 1.6, 2.5], "format": ".1f", "title": "Degree Z-score", "labelPadding": 10, "titlePadding": 1}}}},
    {"data": {"name": "fit"}, "transform": [{"filter": "datum.p == 'd'"}], "mark": {"type": "line", "color": "#ff0000", "strokeWidth": 4}, "encoding": {"x": {"field": "x", "type": "quantitative"}, "y": {"field": "y", "type": "quantitative"}}},
    {"data": {"name": "ann"}, "transform": [{"filter": "datum.p == 'd'"}], "mark": {"type": "text", "align": "right", "fontStyle": "italic", "color": "#548235"}, "encoding": {"x": {"field": "x", "type": "quantitative"}, "y": {"field": "y", "type": "quantitative"}, "text": {"field": "s"}}},
    {"data": {"name": "ann"}, "transform": [{"filter": "datum.p == 'd'"}], "mark": {"type": "text", "align": "left", "dx": 5, "color": "#548235"}, "encoding": {"x": {"field": "x", "type": "quantitative"}, "y": {"field": "y", "type": "quantitative"}, "text": {"field": "t"}}}
   ]},
  {"width": 197, "height": 228, "title": {"text": "(e)", "dx": -96, "offset": -18},
   "layer": [
    {"data": {"name": "pe"}, "mark": {"type": "circle", "size": 115, "opacity": 1, "strokeWidth": 0, "fill": {"gradient": "radial", "x1": 0.35, "y1": 0.3, "r1": 0, "x2": 0.5, "y2": 0.5, "r2": 0.55, "stops": [{"offset": 0, "color": "#fffef5"}, {"offset": 0.45, "color": "#eddca6"}, {"offset": 1, "color": "#b39858"}]}},
     "encoding": {"x": {"field": "x", "type": "quantitative", "scale": {"domain": [1.1, 1.6], "nice": false, "zero": false}, "axis": {"values": [1.1, 1.3, 1.5], "format": ".1f", "title": "Tau Level"}},
      "y": {"field": "y", "type": "quantitative", "scale": {"domain": [0.002, 0.018], "nice": false, "zero": false}, "axis": {"values": [0.002, 0.006, 0.010, 0.014, 0.018], "format": ".3f", "title": "PageRank", "labelPadding": 18, "titlePadding": 10}}}},
    {"data": {"name": "fit"}, "transform": [{"filter": "datum.p == 'e'"}], "mark": {"type": "line", "color": "#ff0000", "strokeWidth": 4}, "encoding": {"x": {"field": "x", "type": "quantitative"}, "y": {"field": "y", "type": "quantitative"}}},
    {"data": {"name": "ann"}, "transform": [{"filter": "datum.p == 'e'"}], "mark": {"type": "text", "align": "right", "fontStyle": "italic", "color": "#bf9000"}, "encoding": {"x": {"field": "x", "type": "quantitative"}, "y": {"field": "y", "type": "quantitative"}, "text": {"field": "s"}}},
    {"data": {"name": "ann"}, "transform": [{"filter": "datum.p == 'e'"}], "mark": {"type": "text", "align": "left", "dx": 5, "color": "#bf9000"}, "encoding": {"x": {"field": "x", "type": "quantitative"}, "y": {"field": "y", "type": "quantitative"}, "text": {"field": "t"}}}
   ]},
  {"width": 197, "height": 228, "title": {"text": "(f)", "dx": -86, "offset": -18},
   "layer": [
    {"data": {"name": "pf"}, "mark": {"type": "circle", "size": 135, "opacity": 1, "strokeWidth": 0, "fill": {"gradient": "radial", "x1": 0.35, "y1": 0.3, "r1": 0, "x2": 0.5, "y2": 0.5, "r2": 0.55, "stops": [{"offset": 0, "color": "#b5daf8"}, {"offset": 0.45, "color": "#3a88d0"}, {"offset": 1, "color": "#1a5189"}]}},
     "encoding": {"x": {"field": "x", "type": "quantitative", "scale": {"domain": [1.1, 1.6], "nice": false, "zero": false}, "axis": {"values": [1.1, 1.3, 1.5], "format": ".1f", "title": "Tau Level"}},
      "y": {"field": "y", "type": "quantitative", "scale": {"domain": [0, 6000], "nice": false}, "axis": {"values": [0, 1500, 3000, 4500, 6000], "format": "d", "title": "Betweenness", "labelPadding": 14, "titlePadding": 8}}}},
    {"data": {"name": "fit"}, "transform": [{"filter": "datum.p == 'f'"}], "mark": {"type": "line", "color": "#ff0000", "strokeWidth": 4}, "encoding": {"x": {"field": "x", "type": "quantitative"}, "y": {"field": "y", "type": "quantitative"}}},
    {"data": {"name": "ann"}, "transform": [{"filter": "datum.p == 'f'"}], "mark": {"type": "text", "align": "right", "fontStyle": "italic", "color": "#2f5597"}, "encoding": {"x": {"field": "x", "type": "quantitative"}, "y": {"field": "y", "type": "quantitative"}, "text": {"field": "s"}}},
    {"data": {"name": "ann"}, "transform": [{"filter": "datum.p == 'f'"}], "mark": {"type": "text", "align": "left", "dx": 5, "color": "#2f5597"}, "encoding": {"x": {"field": "x", "type": "quantitative"}, "y": {"field": "y", "type": "quantitative"}, "text": {"field": "t"}}}
   ]}
 ], "spacing": 114, "bounds": "flush"},
 {"width": 947, "height": 5, "view": {"fill": null, "stroke": null}, "data": {"values": [{"a": 0, "b": 1, "c": 0}]}, "mark": {"type": "rule", "color": "#333333", "strokeWidth": 1.8, "strokeDash": [9, 4, 2, 4]}, "encoding": {"x": {"field": "a", "type": "quantitative", "scale": {"domain": [0, 1]}, "axis": null}, "x2": {"field": "b"}, "y": {"field": "c", "type": "quantitative", "scale": {"domain": [0, 1]}, "axis": null}}},
 {"hconcat": [
  {"width": 1, "height": 228, "view": {"fill": null, "stroke": null}, "data": {"values": [{"t": "( FDG )"}]}, "mark": {"type": "text", "angle": 270, "fontSize": 25, "fontWeight": "bold", "color": "black", "dy": 17, "dx": -10}, "encoding": {"text": {"field": "t"}}},
  {"width": 197, "height": 228, "title": {"text": "(g)", "dx": -66},
   "layer": [
    {"data": {"name": "pg"}, "mark": {"type": "circle", "size": 115, "opacity": 1, "strokeWidth": 0, "fill": {"gradient": "radial", "x1": 0.35, "y1": 0.3, "r1": 0, "x2": 0.5, "y2": 0.5, "r2": 0.55, "stops": [{"offset": 0, "color": "#ffffff"}, {"offset": 0.45, "color": "#c6d9b8"}, {"offset": 1, "color": "#7f9a72"}]}},
     "encoding": {"x": {"field": "x", "type": "quantitative", "scale": {"domain": [0.4, 1.3], "nice": false, "zero": false}, "axis": {"values": [0.4, 0.8, 1.2], "format": ".1f", "title": "FDG Level"}},
      "y": {"field": "y", "type": "quantitative", "scale": {"domain": [-1.5, 3.0], "nice": false, "zero": false}, "axis": {"values": [-1.5, -0.5, 0.5, 1.5, 2.5], "format": ".1f", "title": "Degree Z-score", "labelPadding": 10, "titlePadding": 1}}}},
    {"data": {"name": "fit"}, "transform": [{"filter": "datum.p == 'g'"}], "mark": {"type": "line", "color": "#ff0000", "strokeWidth": 4}, "encoding": {"x": {"field": "x", "type": "quantitative"}, "y": {"field": "y", "type": "quantitative"}}},
    {"data": {"name": "ann"}, "transform": [{"filter": "datum.p == 'g'"}], "mark": {"type": "text", "align": "right", "fontStyle": "italic", "color": "#548235"}, "encoding": {"x": {"field": "x", "type": "quantitative"}, "y": {"field": "y", "type": "quantitative"}, "text": {"field": "s"}}},
    {"data": {"name": "ann"}, "transform": [{"filter": "datum.p == 'g'"}], "mark": {"type": "text", "align": "left", "dx": 5, "color": "#548235"}, "encoding": {"x": {"field": "x", "type": "quantitative"}, "y": {"field": "y", "type": "quantitative"}, "text": {"field": "t"}}}
   ]},
  {"width": 197, "height": 228, "title": {"text": "(h)", "dx": -96},
   "layer": [
    {"data": {"name": "ph"}, "mark": {"type": "circle", "size": 115, "opacity": 1, "strokeWidth": 0, "fill": {"gradient": "radial", "x1": 0.35, "y1": 0.3, "r1": 0, "x2": 0.5, "y2": 0.5, "r2": 0.55, "stops": [{"offset": 0, "color": "#fffef5"}, {"offset": 0.45, "color": "#eddca6"}, {"offset": 1, "color": "#b39858"}]}},
     "encoding": {"x": {"field": "x", "type": "quantitative", "scale": {"domain": [0.4, 1.3], "nice": false, "zero": false}, "axis": {"values": [0.4, 0.8, 1.2], "format": ".1f", "title": "FDG Level"}},
      "y": {"field": "y", "type": "quantitative", "scale": {"domain": [0.002, 0.020], "nice": false, "zero": false}, "axis": {"values": [0.002, 0.006, 0.010, 0.014, 0.018], "format": "~f", "title": "PageRank", "labelPadding": 18, "titlePadding": 10}}}},
    {"data": {"name": "fit"}, "transform": [{"filter": "datum.p == 'h'"}], "mark": {"type": "line", "color": "#ff0000", "strokeWidth": 4}, "encoding": {"x": {"field": "x", "type": "quantitative"}, "y": {"field": "y", "type": "quantitative"}}},
    {"data": {"name": "ann"}, "transform": [{"filter": "datum.p == 'h'"}], "mark": {"type": "text", "align": "right", "fontStyle": "italic", "color": "#bf9000"}, "encoding": {"x": {"field": "x", "type": "quantitative"}, "y": {"field": "y", "type": "quantitative"}, "text": {"field": "s"}}},
    {"data": {"name": "ann"}, "transform": [{"filter": "datum.p == 'h'"}], "mark": {"type": "text", "align": "left", "dx": 5, "color": "#bf9000"}, "encoding": {"x": {"field": "x", "type": "quantitative"}, "y": {"field": "y", "type": "quantitative"}, "text": {"field": "t"}}}
   ]},
  {"width": 197, "height": 228, "title": {"text": "(i)", "dx": -87, "offset": -18},
   "layer": [
    {"data": {"name": "pi"}, "mark": {"type": "circle", "size": 135, "opacity": 1, "strokeWidth": 0, "fill": {"gradient": "radial", "x1": 0.35, "y1": 0.3, "r1": 0, "x2": 0.5, "y2": 0.5, "r2": 0.55, "stops": [{"offset": 0, "color": "#b5daf8"}, {"offset": 0.45, "color": "#3a88d0"}, {"offset": 1, "color": "#1a5189"}]}},
     "encoding": {"x": {"field": "x", "type": "quantitative", "scale": {"domain": [0.4, 1.3], "nice": false, "zero": false}, "axis": {"values": [0.4, 0.8, 1.2], "format": ".1f", "title": "FDG Level"}},
      "y": {"field": "y", "type": "quantitative", "scale": {"domain": [0, 6000], "nice": false}, "axis": {"values": [0, 1500, 3000, 4500, 6000], "format": "d", "title": "Betweenness", "labelPadding": 14, "titlePadding": 8}}}},
    {"data": {"name": "fit"}, "transform": [{"filter": "datum.p == 'i'"}], "mark": {"type": "line", "color": "#ff0000", "strokeWidth": 4}, "encoding": {"x": {"field": "x", "type": "quantitative"}, "y": {"field": "y", "type": "quantitative"}}},
    {"data": {"name": "ann"}, "transform": [{"filter": "datum.p == 'i'"}], "mark": {"type": "text", "align": "right", "fontStyle": "italic", "color": "#2f5597"}, "encoding": {"x": {"field": "x", "type": "quantitative"}, "y": {"field": "y", "type": "quantitative"}, "text": {"field": "s"}}},
    {"data": {"name": "ann"}, "transform": [{"filter": "datum.p == 'i'"}], "mark": {"type": "text", "align": "left", "dx": 5, "color": "#2f5597"}, "encoding": {"x": {"field": "x", "type": "quantitative"}, "y": {"field": "y", "type": "quantitative"}, "text": {"field": "t"}}}
   ]}
 ], "spacing": 114, "bounds": "flush"}
]
}
